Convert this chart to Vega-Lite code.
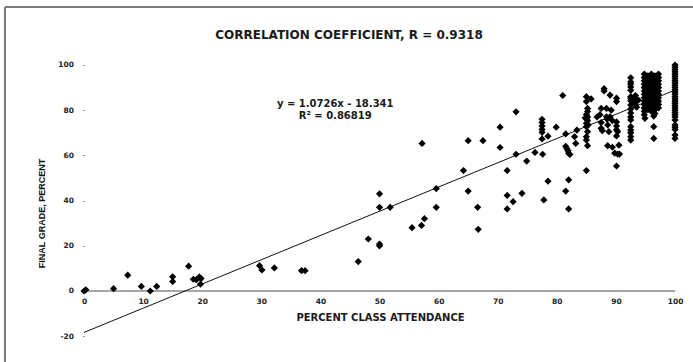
{
  "$schema": "https://vega.github.io/schema/vega-lite/v6.json",
  "width": 688,
  "height": 355,
  "autosize": {"type": "none"},
  "padding": {"left": 5, "top": 7, "right": 0, "bottom": 0},
  "background": "white",
  "config": {
    "view": {"stroke": null},
    "font": "DejaVu Sans",
    "title": {"font": "DejaVu Sans", "fontWeight": "bold", "fontSize": 12, "color": "#1a1a1a", "offset": -36, "anchor": "middle"}
  },
  "title": "CORRELATION COEFFICIENT, R = 0.9318",
  "datasets": {
    "students": [
      {"attendance": 0, "grade": 0}, {"attendance": 0.3, "grade": 0.5}, {"attendance": 5, "grade": 1}, {"attendance": 7.4, "grade": 7},
      {"attendance": 9.7, "grade": 2}, {"attendance": 11.2, "grade": 0}, {"attendance": 12.3, "grade": 2}, {"attendance": 15, "grade": 6.3},
      {"attendance": 15, "grade": 4.2}, {"attendance": 17.7, "grade": 11}, {"attendance": 18.5, "grade": 5.2}, {"attendance": 19, "grade": 5},
      {"attendance": 19.5, "grade": 6.2}, {"attendance": 19.8, "grade": 5.5}, {"attendance": 19.7, "grade": 3}, {"attendance": 29.7, "grade": 11.2},
      {"attendance": 30.1, "grade": 9.3}, {"attendance": 32.2, "grade": 10.2}, {"attendance": 36.8, "grade": 9}, {"attendance": 37.4, "grade": 9},
      {"attendance": 46.4, "grade": 13}, {"attendance": 48.1, "grade": 23}, {"attendance": 50, "grade": 43}, {"attendance": 50, "grade": 37},
      {"attendance": 50, "grade": 20.8}, {"attendance": 50, "grade": 20}, {"attendance": 51.8, "grade": 37}, {"attendance": 55.5, "grade": 28},
      {"attendance": 57.1, "grade": 29}, {"attendance": 57.2, "grade": 65.3}, {"attendance": 57.6, "grade": 32}, {"attendance": 59.6, "grade": 45.3},
      {"attendance": 59.6, "grade": 37}, {"attendance": 64.2, "grade": 53.3}, {"attendance": 65, "grade": 66.5}, {"attendance": 65, "grade": 44.2},
      {"attendance": 66.6, "grade": 37}, {"attendance": 66.7, "grade": 27.3}, {"attendance": 67.5, "grade": 66.5}, {"attendance": 70.4, "grade": 72.5},
      {"attendance": 70.4, "grade": 63.5}, {"attendance": 71.6, "grade": 53.3}, {"attendance": 71.6, "grade": 42.3}, {"attendance": 71.6, "grade": 36.3},
      {"attendance": 72.6, "grade": 39.5}, {"attendance": 73.1, "grade": 79.3}, {"attendance": 73.1, "grade": 60.5}, {"attendance": 74.1, "grade": 43.2},
      {"attendance": 74.9, "grade": 57.5}, {"attendance": 76.3, "grade": 61.3}, {"attendance": 77.5, "grade": 76}, {"attendance": 77.5, "grade": 74.5},
      {"attendance": 77.5, "grade": 73}, {"attendance": 77.5, "grade": 71.5}, {"attendance": 77.5, "grade": 70.2}, {"attendance": 77.5, "grade": 67.3},
      {"attendance": 77.6, "grade": 60.5}, {"attendance": 77.8, "grade": 40.3}, {"attendance": 78.5, "grade": 48.6}, {"attendance": 78.5, "grade": 68.5},
      {"attendance": 79.9, "grade": 72.5}, {"attendance": 81, "grade": 86.5}, {"attendance": 81.5, "grade": 69.5}, {"attendance": 81.5, "grade": 64},
      {"attendance": 81.7, "grade": 63}, {"attendance": 81.9, "grade": 62}, {"attendance": 82, "grade": 61}, {"attendance": 82.2, "grade": 60.4},
      {"attendance": 81.5, "grade": 44.2}, {"attendance": 82, "grade": 49.2}, {"attendance": 82, "grade": 36.3}, {"attendance": 83, "grade": 68.3},
      {"attendance": 83.2, "grade": 65.3}, {"attendance": 83.4, "grade": 71.2},
      {"attendance": 85, "grade": 86}, {"attendance": 85, "grade": 83.8}, {"attendance": 85.2, "grade": 80.8}, {"attendance": 85.2, "grade": 79.4},
      {"attendance": 85, "grade": 78.1}, {"attendance": 85.2, "grade": 77}, {"attendance": 85, "grade": 76.2}, {"attendance": 85.2, "grade": 75.4},
      {"attendance": 85, "grade": 74.2}, {"attendance": 85.3, "grade": 73.5}, {"attendance": 85, "grade": 72.7}, {"attendance": 85.2, "grade": 70.5},
      {"attendance": 85, "grade": 68.3}, {"attendance": 85, "grade": 66.8}, {"attendance": 85.2, "grade": 64.3}, {"attendance": 85, "grade": 53.3},
      {"attendance": 85.8, "grade": 85}, {"attendance": 84.8, "grade": 76.6},
      {"attendance": 88, "grade": 89.5}, {"attendance": 88, "grade": 88.5}, {"attendance": 89, "grade": 86.7}, {"attendance": 90.1, "grade": 85.3},
      {"attendance": 90.1, "grade": 83.8}, {"attendance": 87.5, "grade": 80.8}, {"attendance": 88.4, "grade": 80.8}, {"attendance": 89.2, "grade": 80},
      {"attendance": 87.3, "grade": 78}, {"attendance": 88.4, "grade": 77.1}, {"attendance": 89, "grade": 77.1}, {"attendance": 86.8, "grade": 77},
      {"attendance": 87.5, "grade": 74.5}, {"attendance": 88.6, "grade": 73.5}, {"attendance": 89.4, "grade": 75.4}, {"attendance": 90.1, "grade": 74.8},
      {"attendance": 90.1, "grade": 73}, {"attendance": 90.3, "grade": 70.5}, {"attendance": 90.1, "grade": 71.3}, {"attendance": 87.5, "grade": 72},
      {"attendance": 87.7, "grade": 70.9}, {"attendance": 88.8, "grade": 70.5}, {"attendance": 90.1, "grade": 68.6}, {"attendance": 88.6, "grade": 64.3},
      {"attendance": 89.4, "grade": 63.6}, {"attendance": 89.8, "grade": 61}, {"attendance": 90.3, "grade": 60.6}, {"attendance": 90.6, "grade": 60.6},
      {"attendance": 90.1, "grade": 55.3}, {"attendance": 90.5, "grade": 64.5}, {"attendance": 88.5, "grade": 76},
      {"attendance": 92.5, "grade": 94.3}, {"attendance": 92.5, "grade": 92.5}, {"attendance": 92.5, "grade": 91.5}, {"attendance": 92.5, "grade": 90.3},
      {"attendance": 92.5, "grade": 88.8}, {"attendance": 92.5, "grade": 86}, {"attendance": 92.5, "grade": 85.2}, {"attendance": 92.5, "grade": 84.2},
      {"attendance": 92.8, "grade": 83.5}, {"attendance": 92.5, "grade": 82.3}, {"attendance": 92.5, "grade": 80.5}, {"attendance": 92.5, "grade": 78.8},
      {"attendance": 92.5, "grade": 77}, {"attendance": 92.5, "grade": 75.7}, {"attendance": 92.5, "grade": 72.7}, {"attendance": 92.5, "grade": 71.2},
      {"attendance": 92.5, "grade": 70}, {"attendance": 92.5, "grade": 68.3}, {"attendance": 92.5, "grade": 66.8},
      {"attendance": 93.3, "grade": 86.5}, {"attendance": 93.3, "grade": 85}, {"attendance": 93.3, "grade": 83.5}, {"attendance": 93.3, "grade": 82.2},
      {"attendance": 93.5, "grade": 81.3}, {"attendance": 93.8, "grade": 84.5},
      {"attendance": 94.8, "grade": 96}, {"attendance": 94.8, "grade": 94.5}, {"attendance": 94.8, "grade": 93}, {"attendance": 94.8, "grade": 91.5},
      {"attendance": 94.8, "grade": 90}, {"attendance": 94.8, "grade": 88.5}, {"attendance": 94.8, "grade": 87}, {"attendance": 94.8, "grade": 85.5},
      {"attendance": 94.8, "grade": 84}, {"attendance": 94.8, "grade": 82.5}, {"attendance": 94.8, "grade": 81}, {"attendance": 94.8, "grade": 79.5},
      {"attendance": 94.8, "grade": 78},
      {"attendance": 95.4, "grade": 95.2}, {"attendance": 95.4, "grade": 93.7}, {"attendance": 95.4, "grade": 92.2}, {"attendance": 95.4, "grade": 90.7},
      {"attendance": 95.4, "grade": 89.2}, {"attendance": 95.4, "grade": 87.7}, {"attendance": 95.4, "grade": 86.2}, {"attendance": 95.4, "grade": 84.7},
      {"attendance": 95.4, "grade": 83.2}, {"attendance": 95.4, "grade": 81.7}, {"attendance": 95.4, "grade": 80.2},
      {"attendance": 96, "grade": 96}, {"attendance": 96, "grade": 94.5}, {"attendance": 96, "grade": 93}, {"attendance": 96, "grade": 91.5},
      {"attendance": 96, "grade": 90}, {"attendance": 96, "grade": 88.5}, {"attendance": 96, "grade": 87}, {"attendance": 96, "grade": 85.5},
      {"attendance": 96, "grade": 84}, {"attendance": 96, "grade": 82.5}, {"attendance": 96, "grade": 81}, {"attendance": 96, "grade": 79.5},
      {"attendance": 96.6, "grade": 95.2}, {"attendance": 96.6, "grade": 93.7}, {"attendance": 96.6, "grade": 92.2}, {"attendance": 96.6, "grade": 90.7},
      {"attendance": 96.6, "grade": 89.2}, {"attendance": 96.6, "grade": 87.7}, {"attendance": 96.6, "grade": 86.2}, {"attendance": 96.6, "grade": 84.7},
      {"attendance": 96.6, "grade": 83.2}, {"attendance": 96.6, "grade": 81.7}, {"attendance": 96.6, "grade": 80.2}, {"attendance": 96.6, "grade": 78.5},
      {"attendance": 97.2, "grade": 96}, {"attendance": 97.2, "grade": 94.5}, {"attendance": 97.2, "grade": 93}, {"attendance": 97.2, "grade": 91.5},
      {"attendance": 97.2, "grade": 90}, {"attendance": 97.2, "grade": 88.5}, {"attendance": 97.2, "grade": 87}, {"attendance": 97.2, "grade": 85.5},
      {"attendance": 97.2, "grade": 84}, {"attendance": 97.2, "grade": 82.5}, {"attendance": 97.2, "grade": 81},
      {"attendance": 94.9, "grade": 76.4}, {"attendance": 96.4, "grade": 77.4}, {"attendance": 96.4, "grade": 72.7}, {"attendance": 96.4, "grade": 67.5},
      {"attendance": 100, "grade": 100}, {"attendance": 100, "grade": 99}, {"attendance": 100, "grade": 98}, {"attendance": 100, "grade": 97},
      {"attendance": 100, "grade": 96}, {"attendance": 100, "grade": 95}, {"attendance": 100, "grade": 94}, {"attendance": 100, "grade": 93},
      {"attendance": 100, "grade": 92}, {"attendance": 100, "grade": 91}, {"attendance": 100, "grade": 90}, {"attendance": 100, "grade": 89},
      {"attendance": 100, "grade": 88}, {"attendance": 100, "grade": 87}, {"attendance": 100, "grade": 86}, {"attendance": 100, "grade": 85},
      {"attendance": 100, "grade": 84}, {"attendance": 100, "grade": 83}, {"attendance": 100, "grade": 82}, {"attendance": 100, "grade": 81},
      {"attendance": 100, "grade": 80}, {"attendance": 100, "grade": 79}, {"attendance": 100, "grade": 78}, {"attendance": 100, "grade": 77},
      {"attendance": 100, "grade": 75.7}, {"attendance": 100, "grade": 73.5}, {"attendance": 100, "grade": 72.5}, {"attendance": 100, "grade": 71.5},
      {"attendance": 100, "grade": 69}, {"attendance": 100, "grade": 67.5}
    ],
    "trend": [
      {"attendance": 0, "grade": -18.341},
      {"attendance": 100, "grade": 88.919}
    ],
    "baseline": [
      {"attendance": 0, "end": 100, "grade": 0}
    ],
    "frame": [
      {"x0": -13.37, "x1": -13.37, "y0": -31.42, "y1": 125.66},
      {"x0": -13.37, "x1": 103.04, "y0": 125.66, "y1": 125.66}
    ],
    "equation": [
      {"attendance": 42.5, "grade": 82.9, "label": "y = 1.0726x - 18.341"},
      {"attendance": 42.5, "grade": 77.6, "label": "R² = 0.86819"}
    ]
  },
  "layer": [
    {
      "data": {"name": "baseline"},
      "mark": {"type": "rule", "color": "#8a8a8a", "strokeWidth": 1.5},
      "encoding": {
        "x": {
          "field": "attendance", "type": "quantitative",
          "scale": {"domain": [-13.37, 103.04], "nice": false, "zero": false},
          "axis": {
            "title": "PERCENT CLASS ATTENDANCE",
            "values": [0, 10, 20, 30, 40, 50, 60, 70, 80, 90, 100],
            "offset": -71, "domain": false, "grid": false, "ticks": false,
            "labelPadding": 6, "labelFont": "DejaVu Sans", "labelFontWeight": "bold", "labelFontSize": 7.5, "labelColor": "#222222",
            "titleFont": "DejaVu Sans", "titleFontWeight": "bold", "titleFontSize": 10, "titleColor": "#1a1a1a",
            "titleX": 375, "titleY": 21, "titleBaseline": "top"
          }
        },
        "x2": {"field": "end"},
        "y": {
          "field": "grade", "type": "quantitative",
          "scale": {"domain": [-31.42, 125.66], "nice": false, "zero": false},
          "axis": {
            "title": "FINAL GRADE, PERCENT",
            "values": [-20, 0, 20, 40, 60, 80, 100],
            "labelExpr": "toString(datum.value)",
            "offset": -79, "domain": false, "grid": false,
            "ticks": true, "tickSize": 1.5, "tickColor": "#777777", "tickWidth": 1,
            "labelPadding": 9, "labelFont": "DejaVu Sans", "labelFontWeight": "bold", "labelFontSize": 7.5, "labelColor": "#222222",
            "titleFont": "Liberation Sans", "titleFontWeight": "bold", "titleFontSize": 9, "titleColor": "#111111",
            "titleX": -38, "titleY": 206
          }
        }
      }
    },
    {
      "data": {"name": "frame"},
      "mark": {"type": "rule", "color": "#7a7a7a", "strokeWidth": 2},
      "encoding": {
        "x": {"field": "x0", "type": "quantitative"},
        "x2": {"field": "x1"},
        "y": {"field": "y0", "type": "quantitative"},
        "y2": {"field": "y1"}
      }
    },
    {
      "data": {"name": "trend"},
      "mark": {"type": "line", "color": "#111111", "strokeWidth": 1},
      "encoding": {
        "x": {"field": "attendance", "type": "quantitative"},
        "y": {"field": "grade", "type": "quantitative"}
      }
    },
    {
      "data": {"name": "students"},
      "mark": {"type": "point", "shape": "diamond", "filled": true, "color": "#000000", "size": 52, "opacity": 1},
      "encoding": {
        "x": {"field": "attendance", "type": "quantitative"},
        "y": {"field": "grade", "type": "quantitative"}
      }
    },
    {
      "data": {"name": "equation"},
      "mark": {"type": "text", "font": "DejaVu Sans", "fontWeight": "bold", "fontSize": 10, "color": "#1a1a1a", "align": "center", "baseline": "middle"},
      "encoding": {
        "x": {"field": "attendance", "type": "quantitative"},
        "y": {"field": "grade", "type": "quantitative"},
        "text": {"field": "label"}
      }
    }
  ]
}
